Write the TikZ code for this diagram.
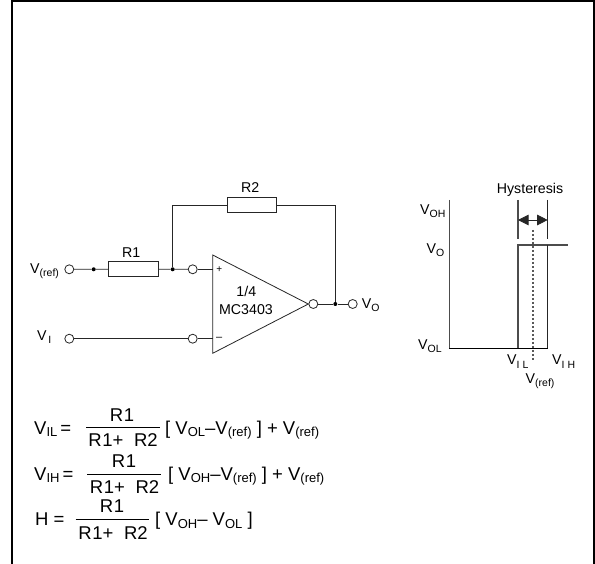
\documentclass[tikz,border=0pt]{standalone}
\usepackage{fontspec}
\setmainfont{Liberation Sans}
\usetikzlibrary{arrows.meta,calc}
\newcommand{\subt}[1]{\raisebox{-3pt}{\fontsize{10.5}{11}\selectfont #1}}
\newcommand{\esub}[1]{\raisebox{-2.5pt}{\fontsize{13}{14}\selectfont #1}}
\newcommand{\rone}{R\kern0.8pt 1}
\newcommand{\rsum}{\rone+\hspace{10.5pt}R2}
\tikzset{
  wire/.style={line width=0.8pt,black!85},
  axis/.style={line width=1.1pt,black!70},
  frameline/.style={line width=2pt,black},
  pin/.style={circle,draw=black!85,line width=0.8pt,fill=white,minimum size=9pt,inner sep=0pt},
  junction/.style={circle,fill=black,minimum size=4pt,inner sep=0pt},
  resistor/.style={rectangle,draw=black!85,line width=0.8pt,fill=white,minimum width=49.3pt,minimum height=15.2pt,inner sep=0pt},
  dlabel/.style={inner sep=0pt,font=\fontsize{14.2}{16}\selectfont,anchor=base},
  dlabelw/.style={inner sep=0pt,font=\fontsize{14.2}{16}\selectfont,anchor=base west},
  elabel/.style={inner sep=0pt,font=\fontsize{18.5}{20}\selectfont,anchor=base west},
  ecenter/.style={inner sep=0pt,font=\fontsize{18.5}{20}\selectfont,anchor=base},
  fracbar/.style={line width=0.9pt,black},
}
\begin{document}
\begin{tikzpicture}[x=1pt,y=-1pt]
\useasboundingbox (0,0) rectangle (595,564);
\fill[white] (0,0) rectangle (595,564);
% frame
\coordinate (fa) at (12,564); \coordinate (fb) at (12,1); \coordinate (fc) at (594,1); \coordinate (fd) at (594,564);
\draw[frameline] (fa) -- (fb) -- (fc) -- (fd);
% op amp
\coordinate (tA) at (212.7,255); \coordinate (tB) at (212.7,353.3); \coordinate (tC) at (308.3,304);
\coordinate (inP) at (212.7,269.3); \coordinate (inM) at (212.7,338.7);
\draw[wire,line join=miter] (tA) -- (tC) -- (tB) -- cycle;
\node[inner sep=0pt,font=\fontsize{10}{10}\selectfont] (plus) at (219.3,269.6) {+};
\node[inner sep=0pt,font=\fontsize{11}{11}\selectfont] (minus) at (219.3,338.7) {–};
\node[dlabel] (frac) at (246.3,297) {1/4};
\node[dlabel] (mc) at (246,315) {MC3403};
% nodes
\node[junction] (d1) at (93.7,269.3) {};
\node[junction] (d2) at (172.7,269.3) {};
\node[junction] (d3) at (335.3,304) {};
\node[pin] (pref) at (69.3,269.3) {};
\node[pin] (pplus) at (192.7,269.3) {};
\node[pin] (pvi) at (69.3,338.7) {};
\node[pin] (pminus) at (192.7,338.7) {};
\node[pin] (pout) at (313.3,304) {};
\node[pin] (pvo) at (352.7,304) {};
\node[resistor] (r1) at (133.3,269) {};
\node[resistor] (r2) at (251.6,205.3) {};
% connectors
\draw[wire] (pref) -- (d1) -- (r1);
\draw[wire] (r1) -- (d2) -- (pplus);
\draw[wire] (pplus) -- (inP);
\draw[wire] (pvi) -- (pminus);
\draw[wire] (pminus) -- (inM);
\draw[wire] (pout) -- (d3) -- (pvo);
\draw[wire] (d2) |- (r2);
\draw[wire] (r2) -| (d3);
% labels
\node[dlabel] (lr1) at (131.3,258) {R1};
\node[dlabel] (lr2) at (250.3,193) {R2};
\node[dlabelw] (lref) at (30,274) {V\subt{(ref)}};
\node[dlabelw] (lvi) at (37,341) {V\subt{\,I}};
\node[dlabelw] (lvo) at (361.7,308.5) {V\subt{O}};
% hysteresis graph
\coordinate (aT) at (449.3,200); \coordinate (aO) at (449.3,348.3); \coordinate (aR) at (547.7,348.3);
\coordinate (ilT) at (518,245); \coordinate (ilB) at (518,348.3);
\coordinate (ihT) at (547.7,245); \coordinate (ihB) at (547.7,348.3);
\coordinate (topR) at (567.7,245);
\coordinate (tkA) at (518,200); \coordinate (tkAb) at (518,239.5);
\coordinate (tkB) at (547.7,200); \coordinate (tkBb) at (547.7,239.5);
\coordinate (hA) at (518,220); \coordinate (hB) at (547.7,220);
\coordinate (dA) at (533,230); \coordinate (dB) at (533,360);
\draw[axis] (aT) -- (aO);
\draw[wire,line width=1pt,black] (aO) -- (aR);
\draw[axis] (ilB) -- (ilT) -- (topR);
\draw[wire] (ihT) -- (ihB);
\draw[axis] (tkA) -- (tkAb);
\draw[wire] (tkB) -- (tkBb);
\draw[wire,{Triangle[length=10.5pt,width=10.5pt]}-{Triangle[length=10.5pt,width=10.5pt]}] (hA) -- (hB);
\draw[line width=1.1pt,black!65,dash pattern=on 2pt off 2pt] (dA) -- (dB);
\node[dlabel] (lh) at (530,194) {Hysteresis};
\node[dlabelw] (lvoh) at (420,215) {V\subt{OH}};
\node[dlabelw] (lvo2) at (426.5,254) {V\subt{O}};
\node[dlabelw] (lvol) at (418,349.5) {V\subt{OL}};
\node[dlabelw] (lvil) at (507,365) {V\subt{I L}};
\node[dlabelw] (lvih) at (552,365) {V\subt{I H}};
\node[dlabelw] (lvr) at (525.5,383) {V\subt{(ref)}};
% equations
\node[elabel] (e1) at (34,434.3) {V\esub{IL}\,=};
\coordinate (b1a) at (86,427.3); \coordinate (b1b) at (160,427.3);
\draw[fracbar] (b1a) -- (b1b);
\node[ecenter] (n1) at (122,421) {\rone};
\node[ecenter] (m1) at (123,446.7) {\rsum};
\node[elabel] (r1e) at (165,434.3) {[ V\esub{OL}–V\esub{(ref)} ] + V\esub{(ref)}};
\node[elabel] (e2) at (34,480) {V\esub{IH}\,=};
\coordinate (b2a) at (87,474.7); \coordinate (b2b) at (161,474.7);
\draw[fracbar] (b2a) -- (b2b);
\node[ecenter] (n2) at (124,467) {\rone};
\node[ecenter] (m2) at (124.5,493.3) {\rsum};
\node[elabel] (r2e) at (168,480) {[ V\esub{OH}–V\esub{(ref)} ] + V\esub{(ref)}};
\node[elabel] (e3) at (35,525.7) {H =};
\coordinate (b3a) at (75.7,519); \coordinate (b3b) at (149.3,519);
\draw[fracbar] (b3a) -- (b3b);
\node[ecenter] (n3) at (112,512) {\rone};
\node[ecenter] (m3) at (113,539) {\rsum};
\node[elabel] (r3e) at (155,525.7) {[ V\esub{OH}– V\esub{OL} ]};
\end{tikzpicture}
\end{document}
